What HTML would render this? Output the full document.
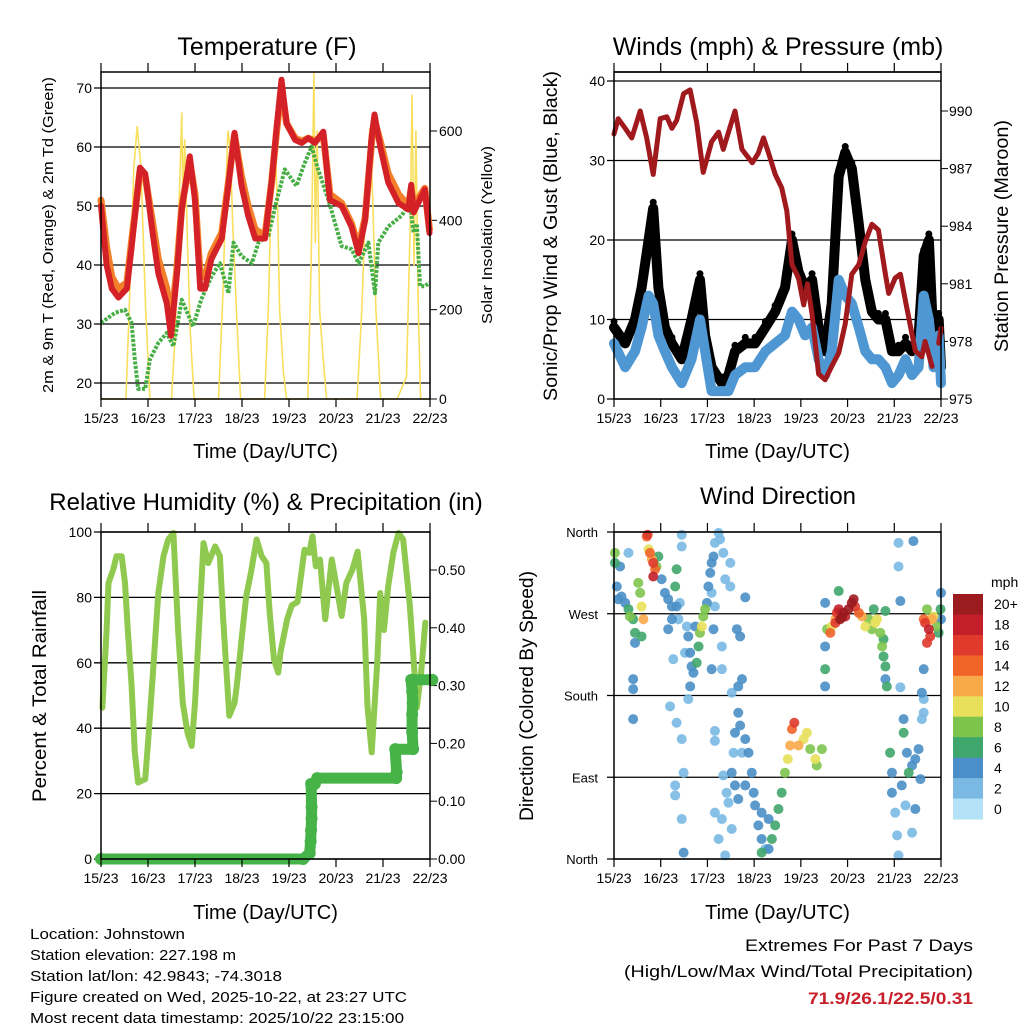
<!DOCTYPE html>
<html><head><meta charset="utf-8"><style>
html,body{margin:0;padding:0;background:#fff;}
svg{display:block;font-family:"Liberation Sans",sans-serif;}
</style></head><body>
<svg id="chart" width="1024" height="1024" viewBox="0 0 1024 1024" xmlns="http://www.w3.org/2000/svg">
<g id="layer"></g>
<g font-size="15" fill="#000">
<text x="30" y="939" textLength="155" lengthAdjust="spacingAndGlyphs">Location: Johnstown</text>
<text x="30" y="960" textLength="206" lengthAdjust="spacingAndGlyphs">Station elevation: 227.198 m</text>
<text x="30" y="981" textLength="252" lengthAdjust="spacingAndGlyphs">Station lat/lon: 42.9843; -74.3018</text>
<text x="30" y="1002" textLength="377" lengthAdjust="spacingAndGlyphs">Figure created on Wed, 2025-10-22, at 23:27 UTC</text>
<text x="30" y="1023" textLength="374" lengthAdjust="spacingAndGlyphs">Most recent data timestamp: 2025/10/22 23:15:00</text>
</g>
<g fill="#000" text-anchor="end">
<text x="973" y="951" font-size="17" textLength="228" lengthAdjust="spacingAndGlyphs">Extremes For Past 7 Days</text>
<text x="973" y="977" font-size="17" textLength="349" lengthAdjust="spacingAndGlyphs">(High/Low/Max Wind/Total Precipitation)</text>
<text x="973" y="1004" font-size="17" font-weight="bold" fill="#c8202a" textLength="165" lengthAdjust="spacingAndGlyphs">71.9/26.1/22.5/0.31</text>
</g>
</svg>
<script>
// ---------- DATA ----------
const dayLabels=["15/23","16/23","17/23","18/23","19/23","20/23","21/23","22/23"];
const tempTicks=[20,30,40,50,60,70];
const solarTicks=[0,200,400,600];
const windTicks=[0,10,20,30,40];
const presTicks=[975,978,981,984,987,990];
const rhTicks=[0,20,40,60,80,100];
const rainTicks=["0.00","0.10","0.20","0.30","0.40","0.50"];
const dirTicks=["North","East","South","West","North"];
const speedLabels=["0","2","4","6","8","10","12","14","16","18","20+"];

const tDays=[0,0.12,0.23,0.37,0.55,0.65,0.83,0.94,1.08,1.22,1.40,1.49,1.61,1.72,1.89,2.0,2.11,2.21,2.35,2.57,2.71,2.84,2.99,3.13,3.28,3.49,3.63,3.74,3.84,3.95,4.13,4.27,4.41,4.55,4.73,4.87,5.12,5.33,5.48,5.62,5.76,5.82,5.94,6.11,6.33,6.54,6.60,6.65,6.89,6.99];
const tempRed=[50,40,36,34.5,36,43,56.5,55.5,46.5,38.6,33.5,28,38,49.4,58.4,51,36,36,41,44.5,53.5,62.4,53.5,48.4,44.5,44.5,54,63.6,71.4,64,61.2,60.7,61.5,60.7,62.6,51,50,46.5,42,47.6,61.8,65.5,60.1,54,50.5,49.4,53.6,48.9,52.8,45.4];
const tempOrange=[51,43,38,36,37,44,56,55,48,41,36,30,39,50,57.5,52,38,38,42,45.5,54,62,55,50,46,45,54,63,70,64,61.5,61,61.5,61,62,52,50.5,47,43,48,61,64.5,61,55.5,52,50,53,50,53,46];
const dDays=[0,0.3,0.51,0.65,0.72,0.79,0.94,1.04,1.22,1.4,1.54,1.72,1.96,2.13,2.35,2.53,2.71,2.82,2.99,3.21,3.35,3.56,3.74,3.91,4.16,4.31,4.48,4.62,4.84,5.12,5.33,5.48,5.69,5.83,5.9,6.11,6.4,6.57,6.65,6.72,6.79,6.89,6.99];
const dewGreen=[30.2,31.9,32.4,30.2,24,19,19,24,26.8,28.5,26.2,34.1,29.6,34.1,38,40.3,35.2,43.8,41.5,40.3,43.8,45,51,56.2,53.4,56.8,60.1,56.2,51,43.2,42.7,40.3,43.8,35.2,43.8,46.5,48.4,50.5,45.5,47,36.4,36.4,37];
const solDays=[0,0.53,0.6,0.7,0.77,0.85,0.95,1.04,1.5,1.58,1.65,1.72,1.74,1.78,1.84,1.9,1.98,2.5,2.6,2.65,2.7,2.75,2.8,2.88,2.97,3.48,3.56,3.62,3.7,3.76,3.8,3.88,3.95,4.4,4.47,4.5,4.53,4.56,4.6,4.65,4.72,4.8,5.45,5.55,5.65,5.72,5.78,5.85,5.95,6.3,6.5,6.58,6.62,6.66,6.7,6.75,6.8,7.0];
const solar=[0,0,200,520,610,520,200,0,0,150,400,640,450,580,350,150,0,0,250,450,600,560,400,200,0,0,200,450,580,420,200,60,0,0,300,500,730,350,600,200,100,0,0,200,500,605,450,200,0,0,50,400,680,300,600,200,0,0];

const wDays=[0,0.24,0.45,0.59,0.74,0.84,0.95,1.09,1.24,1.45,1.66,1.84,1.95,2.09,2.31,2.45,2.59,2.81,3.02,3.24,3.45,3.66,3.81,3.95,4.09,4.24,4.38,4.52,4.66,4.81,4.95,5.09,5.24,5.38,5.52,5.66,5.81,5.95,6.09,6.24,6.38,6.52,6.63,6.74,6.84,6.95,7.0];
const windBlue=[7,4,6,9,13,12,8,6,4,2,5,10,6,1,1,1,3,4,4,6,7,8,11,10,8,9,5,3,6,15,13,12,9,6,5,5,4,2,3,5,3,4,13,10,4,8,2];
const windGust=[9,7,10,14,20,24,14,9,7,5,10,15,8,4,2,3,6,7,7,9,11,14,20,16,14,15,9,6,12,28,31,29,22,15,11,10,10,6,6,7,6,8,18,20,7,10,4];
const pDays=[0,0.09,0.24,0.38,0.56,0.7,0.84,0.99,1.13,1.24,1.34,1.49,1.63,1.77,1.91,2.09,2.24,2.34,2.45,2.59,2.74,2.96,3.09,3.2,3.31,3.45,3.59,3.7,3.81,3.95,4.06,4.14,4.24,4.38,4.52,4.66,4.81,4.95,5.09,5.24,5.38,5.52,5.66,5.81,5.88,6.02,6.13,6.24,6.45,6.59,6.66,6.81];
const pressure=[988.8,989.6,989.1,988.6,990,988.6,986.7,989.6,989.7,989.1,989.5,990.9,991.1,989.4,986.8,988.4,988.9,988,988.9,990,988,987.3,987.8,988.6,987.8,986.7,986,984.8,982,981.3,979.9,981,979.4,976.3,976,976.7,977.4,978.9,981.5,982,983.2,984.1,983.8,981.5,980.5,981.3,981.5,980.1,977.5,977.2,978,976.7];
const pDays2=[6.95,7.0];
const pressure2=[977.9,978.7];

const rhDays=[0.03,0.12,0.16,0.26,0.33,0.44,0.51,0.57,0.65,0.72,0.79,0.94,1.01,1.11,1.22,1.33,1.43,1.54,1.64,1.74,1.84,1.93,2.0,2.11,2.18,2.28,2.43,2.53,2.6,2.73,2.84,2.89,2.99,3.09,3.19,3.31,3.42,3.52,3.59,3.68,3.77,3.82,3.96,4.06,4.18,4.33,4.43,4.5,4.57,4.66,4.77,4.91,5.01,5.12,5.22,5.35,5.46,5.6,5.67,5.76,5.88,5.94,6.02,6.11,6.22,6.33,6.43,6.57,6.65,6.72,6.81,6.9];
const rhVals=[46.3,70,84.4,88.5,92.6,92.6,84.4,70,53,32.6,23.4,24.4,37.6,58,81.3,92.6,97.7,99.7,70,47.7,38.6,34.6,47.7,77.6,96.6,90.5,95.6,92.6,73.3,43.8,47.7,53,67,80.3,87.5,97.7,92.6,90.5,75.3,61,57,63.2,73.3,77.6,78.6,94.6,93.6,98.7,89.5,91.6,73.3,91.6,83.4,74.3,84.4,88.5,94,73.3,46.7,32.6,61,81.3,70,83.4,93.6,99.7,97.7,77.6,61,46.3,57,72.3];
const rainDays=[0,4.3,4.44,4.46,4.47,4.48,4.48,4.47,4.55,4.6,6.28,6.29,6.26,6.64,6.62,6.62,6.63,6.62,6.6,7.05];
const rainVals=[0,0,0.01,0.03,0.05,0.07,0.09,0.13,0.13,0.14,0.14,0.15,0.19,0.19,0.22,0.25,0.27,0.29,0.31,0.31];

const dirDays=[
0.02,0.02,0.06,0.09,0.16,0.24,0.31,0.34,0.41,0.45,
0.45,0.13,0.31,0.41,0.41,0.52,0.56,0.59,0.63,0.59,
0.70,0.72,0.74,0.77,0.81,0.84,0.88,0.84,0.95,0.91,
1.02,1.09,1.16,1.24,1.31,1.34,1.34,1.24,1.16,1.45,
1.45,1.38,1.41,1.27,0.41,1.20,1.34,1.45,1.49,1.31,
1.31,1.45,1.49,1.59,1.63,1.66,1.70,1.77,1.81,1.84,
1.88,1.91,1.95,1.56,1.52,1.63,1.59,1.74,1.99,2.02,
2.06,2.09,2.13,2.16,2.24,2.27,2.34,2.38,2.49,2.49,
2.09,2.13,2.16,2.31,2.31,2.09,2.81,2.63,2.70,2.52,
2.66,2.74,2.66,2.70,2.81,2.88,2.59,2.56,2.52,2.59,
2.66,2.81,2.95,2.99,3.02,3.09,3.16,3.24,3.16,3.31,
3.38,3.45,3.52,3.59,3.66,3.72,3.77,3.81,3.86,3.95,
4.06,4.13,4.20,4.31,4.34,4.45,2.16,2.24,2.38,2.31,
2.45,2.52,2.74,3.16,3.31,2.16,2.16,2.34,2.41,4.52,
4.52,4.52,4.56,4.63,4.66,4.74,4.77,4.81,4.84,4.91,
4.95,5.02,5.09,5.13,5.16,5.24,5.31,5.38,5.45,5.52,
5.59,5.63,5.70,5.74,5.77,5.81,5.81,5.84,4.81,5.56,
5.81,5.77,4.52,4.74,4.88,5.91,5.95,5.95,6.02,6.06,
6.09,6.16,6.20,6.20,6.27,6.31,6.38,6.45,6.52,6.56,
6.45,6.38,6.24,6.09,6.09,6.41,6.13,6.63,6.59,6.63,
6.63,6.59,6.13,6.63,6.66,6.70,6.74,6.77,6.81,6.84,
6.91,6.95,6.99,7.00,7.00,6.70,6.77];
const dirDegs=[
337,326,300,286,289,282,275,267,264,249,
238,322,337,198,154,304,293,278,264,245,
355,357,341,337,330,326,319,311,333,322,
308,293,286,278,300,319,278,264,253,357,
344,264,282,220,187,168,150,132,95,81,
70,44,7,245,227,212,205,216,234,249,
256,267,275,256,227,190,176,256,282,300,
315,326,333,348,359,352,337,308,326,300,
293,253,278,234,209,209,288,253,245,183,
190,198,161,147,132,117,139,117,95,81,
66,81,95,73,59,37,22,11,51,44,
22,37,55,73,95,110,125,143,150,125,
132,139,121,110,103,121,51,22,4,44,
62,33,117,7,11,141,130,92,73,282,
234,209,253,249,256,264,271,275,264,271,
267,275,282,286,278,271,267,256,264,253,
260,264,249,234,223,212,198,190,295,275,
273,242,190,260,266,117,95,73,51,26,
4,81,139,154,117,95,103,110,121,88,
55,29,59,348,322,350,284,209,183,176,
161,154,189,264,260,275,253,245,264,267,
256,249,275,293,264,238,264];
const dirSpeeds=[
7,6,4,4,4,4,6,7,6,6,
4,4,2,4,4,7,8,10,12,6,
14,16,10,13,12,16,14,18,6,8,
4,4,4,4,6,6,4,4,4,2,
2,2,2,2,4,2,2,2,2,2,
2,2,4,4,4,4,4,6,6,8,
10,8,7,2,2,4,2,4,4,4,
4,4,4,2,2,2,2,2,2,2,
2,4,2,2,2,4,4,4,4,2,
4,4,4,4,4,4,4,2,4,4,
4,4,4,4,4,4,4,2,4,4,
6,6,6,6,7,10,12,14,16,12,
9,10,8,9,8,7,2,2,2,2,
2,2,2,6,4,2,2,2,2,4,
4,6,7,14,10,12,16,18,20,20,
18,20,20,20,16,14,12,10,8,8,
10,10,8,8,6,6,4,6,6,6,
6,6,4,16,20,6,4,4,2,2,
2,4,6,4,4,6,4,4,4,4,
4,2,2,2,2,4,4,4,4,2,
2,2,2,14,16,8,18,16,12,10,
8,6,6,4,4,16,10];

// ---------- RENDER ----------
const NS="http://www.w3.org/2000/svg";
const layer=document.getElementById('layer');
function mk(tag,attrs,parent){const e=document.createElementNS(NS,tag);for(const k in attrs)e.setAttribute(k,attrs[k]);(parent||layer).appendChild(e);return e;}
function txt(s,attrs,parent){const e=mk('text',attrs,parent);e.textContent=s;return e;}
function poly(xs,ys,fx,fy){return xs.map((d,i)=>fx(d).toFixed(1)+','+fy(ys[i]).toFixed(1)).join(' ');}

function frame(name,X0,X1,Y0,Y1,xtitleY){
  const g=mk('g',{});
  
  
  mk('rect',{x:X0,y:Y0,width:X1-X0,height:Y1-Y0,fill:'none',stroke:'#000','stroke-width':1.5},g);
  dayLabels.forEach((l,i)=>{
    const x=X0+i*(X1-X0)/7;
    mk('line',{x1:x,x2:x,y1:Y1,y2:Y1+8,stroke:'#000','stroke-width':1.2},g);
    mk('line',{x1:x,x2:x,y1:Y0,y2:Y0-9,stroke:'#000','stroke-width':1.2},g);
    const t=txt(l,{x:x,y:Y1+24,'font-size':14,'text-anchor':'middle'},g);
    
    
  });
  const xt=txt('Time (Day/UTC)',{x:(X0+X1)/2,y:xtitleY,'font-size':20,'text-anchor':'middle'},g);
  
  
  return g;
}
function title(s,x,y,size){const t=txt(s,{x:x,y:y,'font-size':size||24,'text-anchor':'middle'});
  
  }
function vtitle(s,x,y,size,len){const t=txt(s,{x:0,y:0,'font-size':size,'text-anchor':'middle',transform:`translate(${x},${y}) rotate(-90)`});
  if(len){t.setAttribute('textLength',len);t.setAttribute('lengthAdjust','spacingAndGlyphs');}
  
  }
function grid(X0,X1,y){mk('line',{x1:X0-7,x2:X1,y1:y,y2:y,stroke:'#000','stroke-width':1.3});}

// ===== Panel 1: Temperature =====
(function(){
  const X0=101,X1=430,Y0=72,Y1=399;
  const xs=d=>X0+d/7*(X1-X0), yT=v=>88+(70-v)*5.9, yS=v=>399-v*0.4467;
  title('Temperature (F)',267,55,25);
  tempTicks.forEach(v=>{grid(X0,X1,yT(v));const t=txt(String(v),{x:X0-9,y:yT(v)+5,'font-size':14,'text-anchor':'end'});
    });
  solarTicks.forEach(v=>{mk('line',{x1:X1,x2:X1+7,y1:yS(v),y2:yS(v),stroke:'#000'});const t=txt(String(v),{x:X1+9,y:yS(v)+5,'font-size':14});
    });
  const s=mk('polyline',{points:poly(solDays,solar,xs,yS),fill:'none',stroke:'#f9df5e','stroke-width':1.6,'stroke-linejoin':'round'});
  
  const g=mk('polyline',{points:poly(dDays,dewGreen,xs,yT),fill:'none',stroke:'#46ae44','stroke-width':4,'stroke-dasharray':'3 1.5','stroke-linejoin':'round'});
  
  const o=mk('polyline',{points:poly(tDays,tempOrange,xs,yT),fill:'none',stroke:'#f47f2a','stroke-width':7,'stroke-linejoin':'round','stroke-linecap':'round'});
  
  const r=mk('polyline',{points:poly(tDays,tempRed,xs,yT),fill:'none',stroke:'#d42128','stroke-width':6,'stroke-linejoin':'round','stroke-linecap':'round'});
  
  frame('temperature',X0,X1,Y0,Y1,458);
  vtitle('2m & 9m T (Red, Orange) & 2m Td (Green)',53,235,15,316);
  vtitle('Solar Insolation (Yellow)',492,235,15,178);
})();

// ===== Panel 2: Winds =====
(function(){
  const X0=614,X1=941,Y0=72,Y1=399;
  const xs=d=>X0+d/7*(X1-X0), yW=v=>399-v*7.95, yP=p=>399-(p-975)*19.2;
  title('Winds (mph) & Pressure (mb)',778,55,25);
  windTicks.forEach(v=>{grid(X0,X1,yW(v));const t=txt(String(v),{x:X0-9,y:yW(v)+5,'font-size':14,'text-anchor':'end'});
    });
  presTicks.forEach(v=>{mk('line',{x1:X1,x2:X1+7,y1:yP(v),y2:yP(v),stroke:'#000'});const t=txt(String(v),{x:X1+8,y:yP(v)+5,'font-size':14});
    });
  const gl=mk('polyline',{points:poly(wDays,windGust,xs,yW),fill:'none',stroke:'#000','stroke-width':10,'stroke-linejoin':'round','stroke-linecap':'round'});
  
  wDays.forEach((d,i)=>{const c=mk('circle',{cx:xs(d),cy:yW(windGust[i])-6,r:3.5,fill:'#000'});
    });
  const b=mk('polyline',{points:poly(wDays,windBlue,xs,yW),fill:'none',stroke:'#4f97d3','stroke-width':10,'stroke-linejoin':'round','stroke-linecap':'round'});
  
  const p=mk('polyline',{points:poly(pDays,pressure,xs,yP),fill:'none',stroke:'#a0191d','stroke-width':5,'stroke-linejoin':'round','stroke-linecap':'round'});
  
  const p2=mk('polyline',{points:poly(pDays2,pressure2,xs,yP),fill:'none',stroke:'#a0191d','stroke-width':5,'stroke-linecap':'round'});
  
  mk('line',{x1:X0,x2:X1,y1:Y0,y2:Y0,stroke:'#000','stroke-width':1.5});
  frame('winds',X0,X1,Y0,Y1,458);
  vtitle('Sonic/Prop Wind & Gust (Blue, Black)',557,236,19,330);
  vtitle('Station Pressure (Maroon)',1008,236,19,232);
})();

// ===== Panel 3: RH & Precip =====
(function(){
  const X0=101,X1=430,Y0=532,Y1=859;
  const xs=d=>X0+d/7*(X1-X0), yR=v=>859-v*3.27, yPr=v=>859-v*578;
  title('Relative Humidity (%) & Precipitation (in)',266,510,24);
  rhTicks.forEach(v=>{grid(X0,X1,yR(v));const t=txt(String(v),{x:X0-9,y:yR(v)+5,'font-size':14,'text-anchor':'end'});
    });
  rainTicks.forEach(v=>{const y=yPr(parseFloat(v));mk('line',{x1:X1,x2:X1+7,y1:y,y2:y,stroke:'#000'});const t=txt(v,{x:X1+8,y:y+5,'font-size':14});
    });
  const r=mk('polyline',{points:poly(rhDays,rhVals,xs,yR),fill:'none',stroke:'#8fc94f','stroke-width':6,'stroke-linejoin':'round','stroke-linecap':'round'});
  
  const pr=mk('polyline',{points:poly(rainDays,rainVals,xs,yPr),fill:'none',stroke:'#45b348','stroke-width':11,'stroke-linejoin':'round','stroke-linecap':'round'});
  
  rainDays.forEach((d,i)=>{const c=mk('circle',{cx:xs(d),cy:yPr(rainVals[i]),r:6,fill:'#45b348'});
    });
  frame('humidity',X0,X1,Y0,Y1,919);
  vtitle('Percent & Total Rainfall',46,696,19,212);
})();

// ===== Panel 4: Wind Direction =====
(function(){
  const X0=614,X1=941,Y0=532,Y1=859;
  const xs=d=>X0+d/7*(X1-X0), yD=g=>859-g*327/360;
  const colors=["#b4e2f7","#7ab9e3","#4a8fc7","#3fa66c","#7dc44d","#e8e05a","#f8a94a","#f0642a","#df3a2c","#c21f2a","#9b1b1f"];
  title('Wind Direction',778,504,24);
  dirTicks.forEach((l,i)=>{const y=yD(i*90);grid(X0,X1,y);const t=txt(l,{x:X0-16,y:y+5,'font-size':13,'text-anchor':'end'});
    });
  const n=Math.min(dirDays.length,dirDegs.length,dirSpeeds.length);
  const order=[];for(let i=0;i<n;i++)order.push(i);
  order.sort((a,b)=>dirSpeeds[a]-dirSpeeds[b]);
  order.forEach(i=>{const deg=((dirDegs[i]%360)+360)%360;const ci=Math.max(0,Math.min(10,Math.round(dirSpeeds[i]/2)));
    const c=mk('circle',{cx:xs(dirDays[i]),cy:yD(deg),r:5,fill:colors[ci],'fill-opacity':0.9});
    });
  frame('direction',X0,X1,Y0,Y1,919);
  vtitle('Direction (Colored By Speed)',533,696,19,250);
  const cb=mk('g',{});
  
  txt('mph',{x:991,y:587,'font-size':14},cb);
  const h=225/11;
  for(let k=10;k>=0;k--){const y=594+(10-k)*h;
    mk('rect',{x:953,y:y,width:30,height:h+0.5,fill:colors[k]},cb);
    txt(speedLabels[k],{x:994,y:y+h/2+5,'font-size':14},cb);}
})();
</script>
</body></html>
